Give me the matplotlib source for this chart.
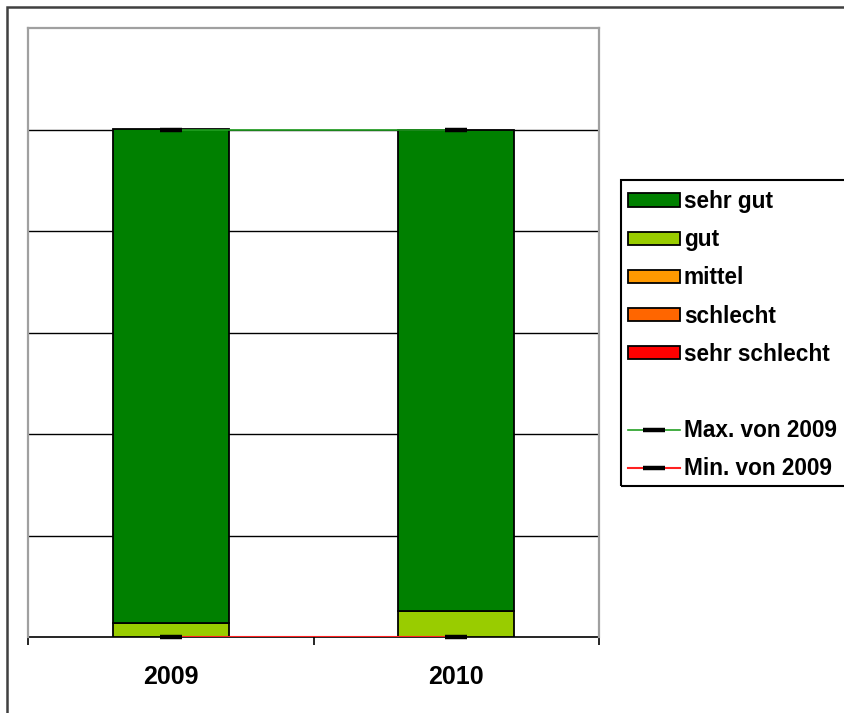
import matplotlib
matplotlib.use("Agg")
import matplotlib.pyplot as plt
from matplotlib.patches import Rectangle, Patch
from matplotlib.lines import Line2D
import numpy as np

plt.rcParams['font.family'] = ['Liberation Sans', 'DejaVu Sans']

categories = ["2009", "2010"]
series_names = ["sehr schlecht", "schlecht", "mittel", "gut", "sehr gut"]
series_colors = ["#FF0000", "#FF6600", "#FF9900", "#99CC00", "#008000"]
sehr_schlecht = [0.0, 0.0]
schlecht = [0.0, 0.0]
mittel = [0.0, 0.0]
gut = [2.8, 5.1]
sehr_gut = [97.2, 94.9]
max_2009 = [100.0, 100.0]
min_2009 = [0.0, 0.0]

W, H = 844, 713
fig = plt.figure(figsize=(W / 100, H / 100), dpi=100)
fig.patch.set_facecolor("white")

def fx(px):
    return px / W

def fy(py):
    return 1 - py / H

ax = fig.add_axes([fx(28), fy(637), fx(599) - fx(28), fy(28) - fy(637)])

x = np.arange(len(categories))
width = 0.406
bottom = np.zeros(len(categories))
series_vals = [sehr_schlecht, schlecht, mittel, gut, sehr_gut]
for name, vals, col in zip(series_names, series_vals, series_colors):
    vals = np.array(vals)
    ax.bar(x, vals, width, bottom=bottom, color=col, edgecolor="black",
           linewidth=1.3, zorder=3)
    bottom = bottom + vals

ax.plot(x, max_2009, color="#22A022", lw=1.2, zorder=4)
ax.plot(x, min_2009, color="#FF2020", lw=1.5, zorder=4)
ax.plot(x, max_2009, ls="none", marker="_", ms=16, mew=3.2, color="black", zorder=5, clip_on=False)
ax.plot(x, min_2009, ls="none", marker="_", ms=16, mew=3.2, color="black", zorder=5, clip_on=False)

ax.set_xlim(-0.5, 1.5)
ax.set_ylim(0, 120)
ax.set_yticks([20, 40, 60, 80, 100])
ax.yaxis.grid(True, color="black", lw=1.0, zorder=1)
ax.set_axisbelow(True)
ax.tick_params(axis="y", length=0, labelleft=False)

ax.set_xticks(x)
ax.set_xticklabels(categories, fontsize=18, fontweight="bold")
ax.tick_params(axis="x", length=0, pad=20)
ax.set_xticks([-0.5, 0.5, 1.5], minor=True)
ax.tick_params(axis="x", which="minor", length=5.5, width=1.2, color="black", direction="out")

for s in ["top", "left", "right"]:
    ax.spines[s].set_color("#A0A0A0")
    ax.spines[s].set_linewidth(1.6)
ax.spines["bottom"].set_color("black")
ax.spines["bottom"].set_linewidth(1.2)
ax.spines["bottom"].set_zorder(2)

# outer chart border
fig.add_artist(Rectangle((fx(7), fy(H + 20)), fx(W + 20) - fx(7), fy(7) - fy(H + 20),
                         transform=fig.transFigure, fill=False, ec="#404040", lw=1.8))
# legend frame
fig.add_artist(Rectangle((fx(621), fy(486)), fx(W + 20) - fx(621), fy(180) - fy(486),
                         transform=fig.transFigure, fill=False, ec="black", lw=1.5))

handles = []
labels = []
for name in ["sehr gut", "gut", "mittel", "schlecht", "sehr schlecht"]:
    col = series_colors[series_names.index(name)]
    handles.append(Patch(facecolor=col, edgecolor="black", lw=1.3))
    labels.append(name)
handles.append(Line2D([], [], color="none"))
labels.append(" ")
handles.append(Line2D([0], [0], color="#22A022", lw=1.2, marker="_", ms=16, mew=3.2, mec="black"))
labels.append("Max. von 2009")
handles.append(Line2D([0], [0], color="#FF2020", lw=1.5, marker="_", ms=16, mew=3.2, mec="black"))
labels.append("Min. von 2009")

leg = fig.legend(handles, labels, loc="upper left", bbox_to_anchor=(fx(628), fy(190)),
                 frameon=False, prop={"weight": "bold", "size": 16.3},
                 handlelength=2.3, handleheight=0.52, handletextpad=0.17,
                 labelspacing=0.67, borderpad=0, borderaxespad=0)

fig.savefig("out.png", dpi=100)
